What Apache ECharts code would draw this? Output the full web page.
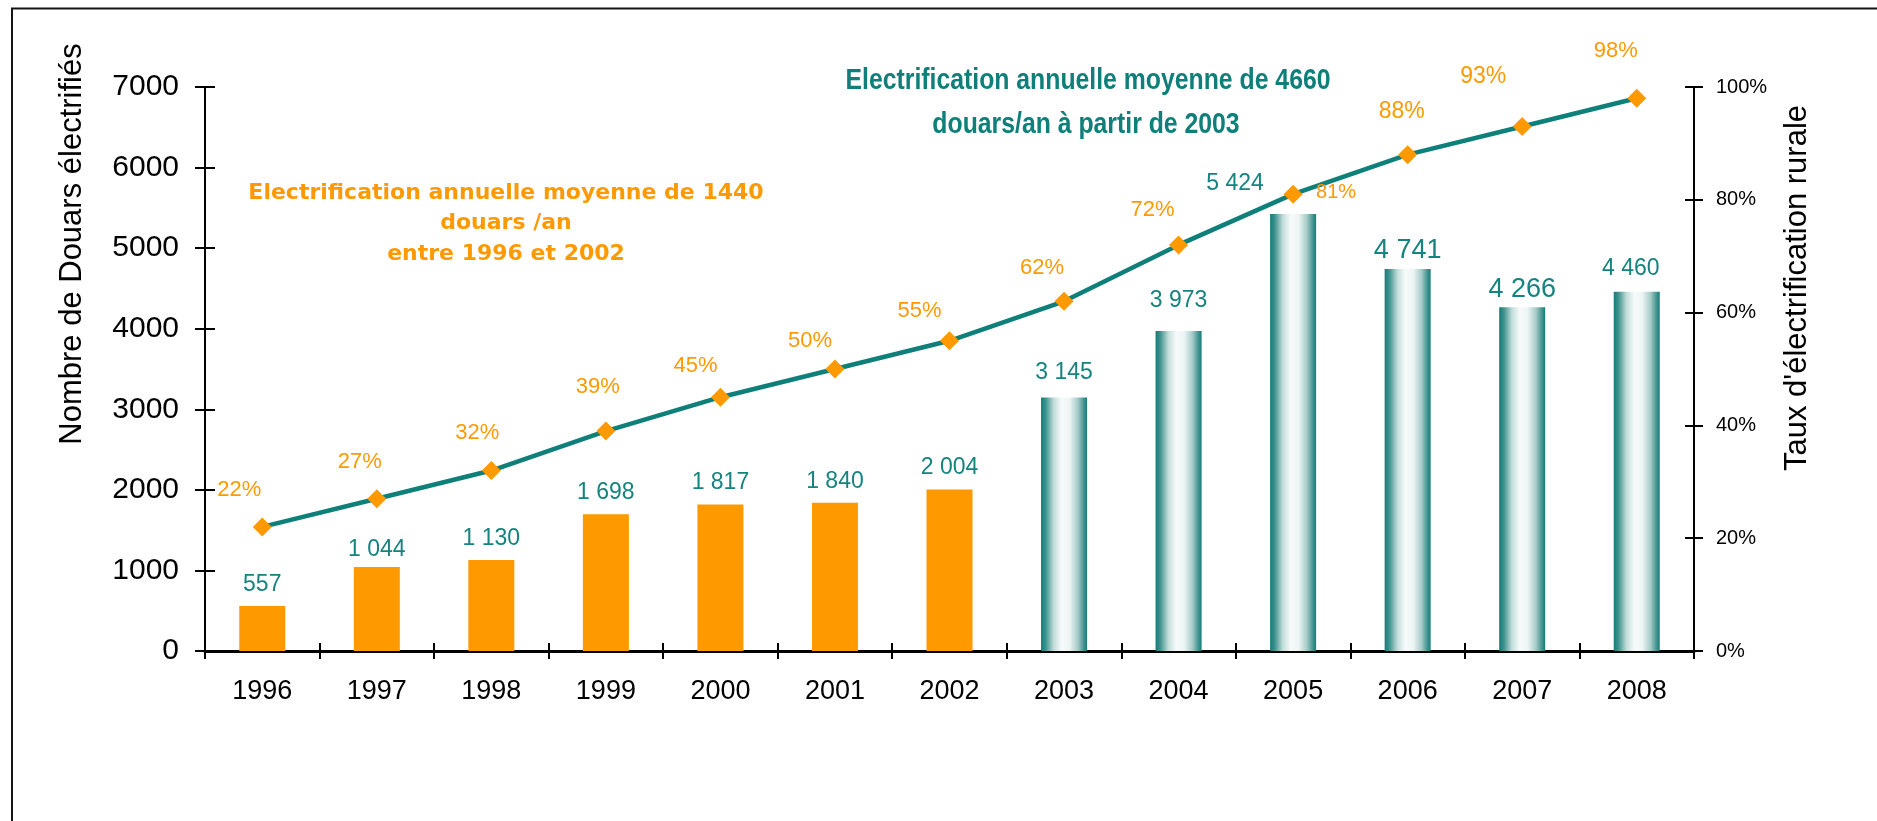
<!DOCTYPE html>
<html>
<head>
<meta charset="utf-8">
<script src="https://cdn.jsdelivr.net/npm/echarts@6/dist/echarts.min.js"></script>
<style>
html,body{margin:0;padding:0;background:#fff;}
#chart{width:1877px;height:821px;}
</style>
</head>
<body>
<div id="chart"></div>
<script>
// ---- data ----
const years = ['1996','1997','1998','1999','2000','2001','2002','2003','2004','2005','2006','2007','2008'];
const douars = [557, 1044, 1130, 1698, 1817, 1840, 2004, 3145, 3973, 5424, 4741, 4266, 4460];
const tauxRural = [22, 27, 32, 39, 45, 50, 55, 62, 72, 81, 88, 93, 98];
const leftTicks = [0, 7000, 1000];   // min, max, interval
const rightTicks = [0, 100, 20];
const firstTealYear = '2003';
const titleLeft = 'Nombre de Douars électrifiés';
const titleRight = "Taux d'électrification rurale";
const noteOrange = ['Electrification annuelle moyenne de 1440', 'douars /an', 'entre 1996 et 2002'];
const noteTeal = ['Electrification annuelle moyenne de 4660', 'douars/an à partir de 2003'];

// ---- styles ----
const FONT = '"Liberation Sans", Arial, sans-serif';
const ORANGE = '#FF9900';
const TEAL = '#0f7f7a';
const TEXT_TEAL = '#15837e';

const tealGradient = new echarts.graphic.LinearGradient(0, 0, 1, 0, [
  {offset: 0, color: '#137c77'},
  {offset: 0.1, color: '#3f928e'},
  {offset: 0.28, color: '#c4dedb'},
  {offset: 0.45, color: '#f6fbfa'},
  {offset: 0.62, color: '#edf5f4'},
  {offset: 0.8, color: '#a6cbc8'},
  {offset: 0.92, color: '#4a9894'},
  {offset: 1, color: '#137c77'}
]);

// label placement tweaks (style, not data)
const barLabelTweak = {
  '1997': {distance: 6}, '2003': {distance: 13}, '2004': {distance: 19},
  '2005': {distance: 19, offset: [-58, 0]}, '2006': {distance: 5, fontSize: 27},
  '2007': {distance: 4, fontSize: 27}, '2008': {distance: 11, offset: [-6, 0]}
};
const pctLabelOffset = {
  '1996': [-23, -37], '1997': [-17, -37], '1998': [-14, -38], '1999': [-8, -44],
  '2000': [-25, -31], '2001': [-25, -28], '2002': [-30, -30], '2003': [-22, -33],
  '2004': [-26, -35], '2005': [43, -2], '2006': [-6, -43], '2007': [-39, -50], '2008': [-21, -47]
};
const pctLabelSize = {'2005': 20, '2006': 23, '2007': 23};

function fmtThousands(v) {
  if (v < 1000) return String(v);
  return Math.floor(v / 1000) + ' ' + String(v % 1000).padStart(3, '0');
}

const tealStart = years.indexOf(firstTealYear);
const barData = douars.map((v, i) => {
  const t = barLabelTweak[years[i]] || {};
  return {
    value: v,
    itemStyle: {color: i < tealStart ? ORANGE : tealGradient},
    label: {
      distance: t.distance !== undefined ? t.distance : 10,
      offset: t.offset || [0, 0],
      fontSize: t.fontSize || 23
    }
  };
});
const lineData = tauxRural.map((v, i) => ({
  value: v,
  label: {offset: pctLabelOffset[years[i]], fontSize: pctLabelSize[years[i]] || 22}
}));

const grid = {left: 205, right: 183, top: 87, bottom: 170};

function noteText(text, x, y, color, font, sx) {
  return {
    type: 'text', x: x, y: y, scaleX: sx || 1, silent: true,
    style: {text: text, fill: color, font: font, textAlign: 'center', textVerticalAlign: 'middle'}
  };
}

const option = {
  animation: false,
  backgroundColor: '#ffffff',
  grid: grid,
  xAxis: [
    {
      type: 'category', data: years, position: 'bottom',
      axisLine: {show: true, onZero: false, lineStyle: {color: '#000', width: 3}},
      axisTick: {show: true, inside: false, length: 8, lineStyle: {color: '#000', width: 2}},
      axisLabel: {interval: 0, color: '#000', fontSize: 27, fontFamily: FONT, margin: 27},
      splitLine: {show: false}
    },
    {
      type: 'category', data: years, position: 'bottom',
      axisLine: {show: false, onZero: false},
      axisTick: {show: true, inside: true, length: 8, lineStyle: {color: '#000', width: 2}},
      axisLabel: {show: false}, splitLine: {show: false}
    }
  ],
  yAxis: [
    {
      type: 'value', position: 'left', min: leftTicks[0], max: leftTicks[1], interval: leftTicks[2],
      axisLine: {show: true, lineStyle: {color: '#000', width: 2}},
      axisTick: {show: true, inside: false, length: 10, lineStyle: {color: '#000', width: 2}},
      axisLabel: {color: '#000', fontSize: 30, fontFamily: FONT, margin: 26, formatter: v => String(v)},
      splitLine: {show: false}
    },
    {
      type: 'value', position: 'right', min: rightTicks[0], max: rightTicks[1], interval: rightTicks[2],
      axisLine: {show: true, lineStyle: {color: '#000', width: 2}},
      axisTick: {show: true, inside: false, length: 9, lineStyle: {color: '#000', width: 2}},
      axisLabel: {color: '#000', fontSize: 20, fontFamily: FONT, margin: 22, formatter: '{value}%'},
      splitLine: {show: false}
    },
    {
      type: 'value', position: 'left', min: leftTicks[0], max: leftTicks[1], interval: leftTicks[2],
      axisLine: {show: false},
      axisTick: {show: true, inside: true, length: 10, lineStyle: {color: '#000', width: 2}},
      axisLabel: {show: false}, splitLine: {show: false}
    },
    {
      type: 'value', position: 'right', min: rightTicks[0], max: rightTicks[1], interval: rightTicks[2],
      axisLine: {show: false},
      axisTick: {show: true, inside: true, length: 9, lineStyle: {color: '#000', width: 2}},
      axisLabel: {show: false}, splitLine: {show: false}
    }
  ],
  series: [
    {
      type: 'bar', xAxisIndex: 0, yAxisIndex: 0, data: barData, barWidth: 46,
      label: {
        show: true, position: 'top', color: TEXT_TEAL, fontFamily: FONT,
        formatter: p => fmtThousands(p.value)
      },
      z: 2
    },
    {
      type: 'line', xAxisIndex: 0, yAxisIndex: 1, data: lineData,
      symbol: 'diamond', symbolSize: 19,
      lineStyle: {color: TEAL, width: 4.5},
      itemStyle: {color: ORANGE},
      label: {
        show: true, position: 'inside', color: ORANGE, fontFamily: FONT,
        formatter: '{c}%'
      },
      z: 5
    }
  ],
  graphic: [
    {
      type: 'rect', silent: true, z: 0,
      shape: {x: 12, y: 8.5, width: 1900, height: 900},
      style: {fill: 'none', stroke: '#151515', lineWidth: 2}
    },
    {
      type: 'text', x: 72, y: 244, rotation: Math.PI / 2, silent: true,
      style: {text: titleLeft, fill: '#000', font: '31px ' + FONT, textAlign: 'center', textVerticalAlign: 'middle'}
    },
    {
      type: 'text', x: 1797, y: 288, rotation: Math.PI / 2, silent: true,
      style: {text: titleRight, fill: '#000', font: '31px ' + FONT, textAlign: 'center', textVerticalAlign: 'middle'}
    },
    noteText(noteOrange[0], 506, 193, ORANGE, 'bold 22px "DejaVu Sans", sans-serif'),
    noteText(noteOrange[1], 506, 223.5, ORANGE, 'bold 22px "DejaVu Sans", sans-serif'),
    noteText(noteOrange[2], 506, 254, ORANGE, 'bold 22px "DejaVu Sans", sans-serif'),
    noteText(noteTeal[0], 1088, 81, TEAL, 'bold 29px ' + FONT, 0.855),
    noteText(noteTeal[1], 1086, 125, TEAL, 'bold 29px ' + FONT, 0.855)
  ]
};

const chart = echarts.init(document.getElementById('chart'), null, {renderer: 'canvas'});
chart.setOption(option);
</script>
</body>
</html>
